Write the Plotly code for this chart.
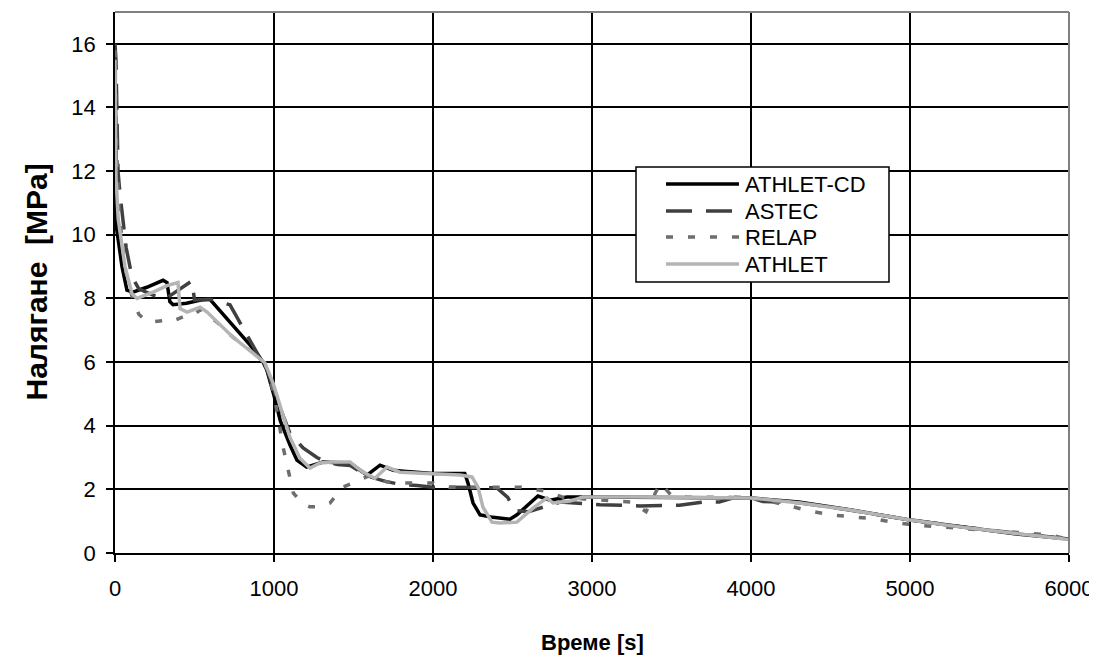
import plotly.graph_objects as go

# ---------------- data ----------------
cd_t = [0, 4, 10, 44, 75, 113, 200, 302, 327, 345, 365, 450, 540, 597, 868, 931, 955, 1000, 1040,
        1100, 1144, 1205, 1308, 1478, 1585, 1667, 1750, 1814, 2000, 2200, 2220, 2252, 2296, 2377,
        2484, 2528, 2660, 2736, 2843, 3000, 3500, 4000, 4300, 4620, 5000, 5360, 5670, 6000]
cd_p = [15.8, 12.0, 10.2, 9.0, 8.26, 8.2, 8.35, 8.57, 8.5, 7.9, 7.8, 7.85, 7.95, 7.97, 6.43, 6.0, 5.75, 4.95, 4.15,
        3.4, 2.92, 2.7, 2.86, 2.82, 2.45, 2.76, 2.6, 2.57, 2.5, 2.5, 2.2, 1.57, 1.2, 1.12,
        1.06, 1.2, 1.79, 1.66, 1.76, 1.76, 1.75, 1.73, 1.6, 1.36, 1.04, 0.79, 0.6, 0.44]

astec_t = [0, 6, 19, 31, 70, 107, 150, 240, 300, 333, 484, 500, 600, 723, 805, 900, 960, 1020, 1100,
           1183, 1270, 1320, 1400, 1480, 1585, 1700, 1800, 1900, 2000, 2400, 2470, 2515, 2600, 2700,
           2800, 2950, 3050, 3300, 3550, 3700, 3800, 3900, 4000, 4075, 4300, 4620, 5000, 5360, 5700, 6000]
astec_p = [16.0, 15.5, 12.0, 11.3, 9.6, 8.67, 8.3, 8.1, 8.0, 8.04, 8.55, 7.95, 7.97, 7.8, 7.07, 6.2, 5.7, 4.8, 3.77,
           3.3, 3.0, 2.88, 2.78, 2.75, 2.42, 2.25, 2.15, 2.12, 2.07, 2.05, 1.75, 1.33, 1.3, 1.45,
           1.6, 1.55, 1.52, 1.48, 1.5, 1.6, 1.6, 1.75, 1.73, 1.62, 1.58, 1.35, 1.04, 0.8, 0.6, 0.44]

relap_t = [0, 8, 25, 60, 110, 150, 176, 208, 300, 346, 440, 484, 540, 642, 742, 868, 943, 1000, 1057,
           1090, 1122, 1180, 1226, 1300, 1352, 1434, 1541, 1585, 1640, 1700, 1750, 2000, 2100, 2550,
           2700, 2820, 2950, 3100, 3250, 3340, 3430, 3500, 3600, 3850, 4000, 4100, 4226, 4371, 4516,
           4642, 4780, 4925, 5050, 5300, 5500, 5742, 5881, 6000]
relap_p = [15.8, 13.0, 10.8, 9.0, 8.0, 7.5, 7.38, 7.25, 7.3, 7.25, 7.45, 7.45, 7.65, 7.25, 6.78, 6.3, 5.95, 5.0, 3.33,
           2.6, 1.88, 1.55, 1.45, 1.45, 1.57, 2.07, 2.29, 2.4, 2.45, 2.25, 2.2, 2.2, 2.07, 2.07,
           1.95, 1.75, 1.7, 1.65, 1.6, 1.3, 2.2, 1.8, 1.75, 1.75, 1.72, 1.65, 1.5, 1.32, 1.19,
           1.13, 1.07, 0.94, 0.87, 0.78, 0.7, 0.63, 0.57, 0.42]

athlet_t = [0, 3, 6, 20, 63, 107, 138, 240, 327, 396, 409, 453, 535, 579, 642, 742, 868, 943, 994, 1050,
            1088, 1100, 1163, 1226, 1289, 1371, 1478, 1560, 1635, 1711, 1792, 2000, 2170, 2245, 2283,
            2314, 2371, 2421, 2528, 2629, 2717, 2755, 2862, 2943, 3283, 4000, 4308, 4623, 5000, 5358, 5673, 6000]
athlet_p = [15.5, 12.5, 11.8, 10.5, 9.0, 8.15, 8.0, 8.2, 8.4, 8.5, 7.68, 7.57, 7.72, 7.57, 7.25, 6.78, 6.28, 5.97, 5.34, 4.45,
            3.86, 3.64, 2.98, 2.67, 2.83, 2.86, 2.86, 2.54, 2.35, 2.7, 2.54, 2.5, 2.45, 2.39, 2.07,
            1.44, 0.97, 0.94, 0.97, 1.41, 1.73, 1.57, 1.63, 1.76, 1.76, 1.73, 1.57, 1.35, 1.04, 0.79, 0.6, 0.42]

series_names = ["ATHLET-CD", "ASTEC", "RELAP", "ATHLET"]
series_colors = ["#000000", "#404040", "#6e6e6e", "#b4b4b4"]
series_dash = ["solid", "26px,14px", "7px,15px", "solid"]

x_ticks = [0, 1000, 2000, 3000, 4000, 5000, 6000]
y_ticks = [0, 2, 4, 6, 8, 10, 12, 14, 16]
x_title = "Време [s]"
y_title = "Налягане  [MPa]"

FONT = "Liberation Sans, Arial, sans-serif"

fig = go.Figure()
for (t, p), name, col, dash in zip(
        [(cd_t, cd_p), (astec_t, astec_p), (relap_t, relap_p), (athlet_t, athlet_p)],
        series_names, series_colors, series_dash):
    fig.add_trace(go.Scatter(x=t, y=p, mode="lines", name=name, showlegend=False,
                             line=dict(color=col, width=3.5, dash=dash)))

# The page body has an 8px margin, so the figure is sized/offset to land the
# plot area at x 115..1069, y 12..553 of the 1097x655 window.
fig.update_layout(
    width=1089, height=647,
    margin=dict(l=107, r=28, t=4, b=102),
    paper_bgcolor="white", plot_bgcolor="white",
    font=dict(family=FONT, size=22, color="black"),
)
fig.update_xaxes(range=[0, 6000], tickvals=x_ticks, ticktext=[str(v) for v in x_ticks],
                 showgrid=True, gridcolor="black", gridwidth=1.5,
                 showline=True, linecolor="black", linewidth=1.5,
                 ticks="outside", ticklen=7, tickwidth=1.5, tickcolor="black",
                 zeroline=False, ticklabelstandoff=8)
fig.update_yaxes(range=[0, 17], tickvals=y_ticks, ticktext=[str(v) for v in y_ticks],
                 showgrid=True, gridcolor="black", gridwidth=1.5,
                 showline=True, linecolor="black", linewidth=1.5,
                 ticks="outside", ticklen=7, tickwidth=1.5, tickcolor="black",
                 zeroline=False, ticklabelstandoff=6)

# top / right plot-area border (gray)
fig.add_shape(type="line", xref="paper", yref="paper", x0=0, x1=1, y0=1, y1=1,
              line=dict(color="#808080", width=2), layer="above")
fig.add_shape(type="line", xref="paper", yref="paper", x0=1, x1=1, y0=0, y1=1,
              line=dict(color="#808080", width=2), layer="above")


def px_x(px):
    return (px - 115) / 954


def px_y(py):
    return (553 - py) / 541


# axis titles
fig.add_annotation(text=f"<b>{x_title}</b>", xref="paper", yref="paper", x=0.5, y=px_y(642),
                   xanchor="center", yanchor="middle", showarrow=False, font=dict(size=22))
fig.add_annotation(text=f"<b>{y_title}</b>", xref="paper", yref="paper", x=px_x(36), y=0.5,
                   xanchor="center", yanchor="middle", showarrow=False, textangle=-90, font=dict(size=30))

# custom legend (box, samples, labels)
fig.add_shape(type="rect", xref="paper", yref="paper", x0=px_x(636), x1=px_x(889), y0=px_y(282), y1=px_y(167),
              line=dict(color="black", width=1.5), fillcolor="white", layer="above")
rows = [184, 211, 237, 264]
for name, col, dash, ry in zip(series_names, series_colors, series_dash, rows):
    fig.add_shape(type="line", xref="paper", yref="paper", x0=px_x(666), x1=px_x(739), y0=px_y(ry), y1=px_y(ry),
                  line=dict(color=col, width=3.5, dash=dash), layer="above")
    fig.add_annotation(text=name, xref="paper", yref="paper", x=px_x(743), y=px_y(ry),
                       xanchor="left", yanchor="middle", showarrow=False, font=dict(size=22))

fig.write_html("out.html")
